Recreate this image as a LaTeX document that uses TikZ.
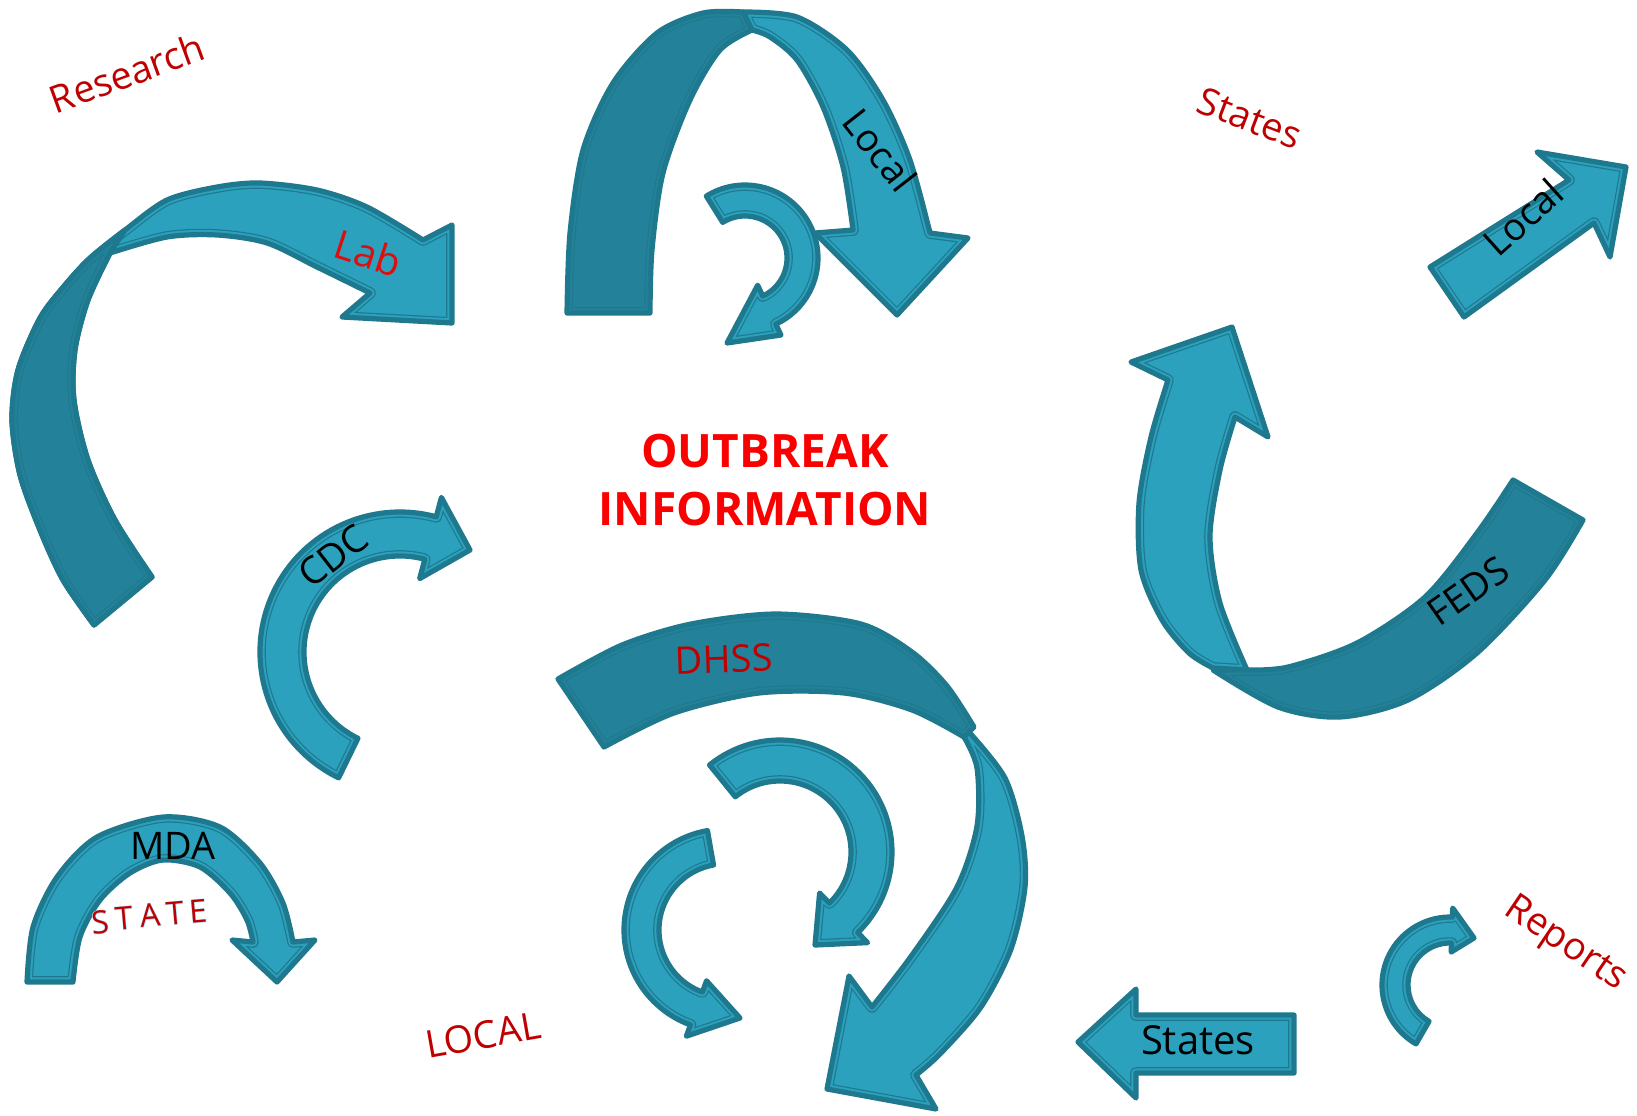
\documentclass[tikz,border=0pt]{standalone}
\usepackage{fontspec}
\setmainfont{Open Sans}
\usetikzlibrary{calc}
\definecolor{lite}{RGB}{43,161,189}
\definecolor{dark}{RGB}{35,130,153}
\definecolor{bdr}{RGB}{31,121,142}
\definecolor{dkred}{RGB}{192,0,0}
\definecolor{brred}{RGB}{250,0,0}
\definecolor{labred}{RGB}{222,14,14}
\definecolor{glow}{RGB}{185,238,255}
\newcommand\shp[2]{%
  \fill[#1] #2;
  \begin{scope}
    \clip #2;
    \draw[bdr,line width=5.8pt] #2;
    \draw[#1,line width=4.6pt] #2;
  \end{scope}
  \draw[bdr,line width=2.6pt] #2;
}
\newcommand\carrpath[8]{($(#1,#2)+(#5:#4)$) arc[start angle=#5,end angle=#6,radius=#4] -- ($(#1,#2)+(#6:{#4+#7})$) -- #8 -- ($(#1,#2)+(#6:{#3-#7})$) -- ($(#1,#2)+(#6:#3)$) arc[start angle=#6,end angle=#5,radius=#3] -- cycle}
\tikzset{
  lbl/.style={font=\fontsize{19}{22}\selectfont, inner sep=0pt},
  ttl/.style={font=\bfseries\fontsize{23}{27}\selectfont, inner sep=0pt},
  stl/.style={font=\fontsize{16}{18}\selectfont, inner sep=0pt, rotate=5},
}
\begin{document}
\begin{tikzpicture}[x=0.5pt,y=-0.5pt,line join=round]
\useasboundingbox (0,0) rectangle (1637,1115);
\fill[white] (0,0) rectangle (1637,1115);

% Research / Lab arrow
\shp{lite}{plot[smooth] coordinates {(94,625) (63,580) (40,530) (20,475) (12,420) (18,370) (40,318) (65,285) (90,258) (125,230) (167,200) (217,187) (260,183) (317,190) (367,207) (423,240)} -- (452,225) -- (452,323) -- (342,317) -- plot[smooth] coordinates {(370,293) (317,267) (267,243) (217,235) (167,237) (110,253)} -- plot[smooth] coordinates {(110,253) (88,300) (75,350) (74,400) (88,460) (115,520) (152,577)} -- cycle}
\shp{dark}{plot[smooth] coordinates {(94,625) (63,580) (40,530) (20,475) (12,420) (18,370) (40,318) (65,285) (90,258) (125,230)} -- plot[smooth] coordinates {(110,253) (88,300) (75,350) (74,400) (88,460) (115,520) (152,577)} -- cycle}

% Local arch
\shp{lite}{plot[smooth] coordinates {(743,12) (797,17) (847,50) (883,100) (910,160) (930,233)} -- (968,238) -- (897,315) -- (815,233) -- plot[smooth] coordinates {(853,230) (843,167) (823,107) (797,60) (770,37) (752,30)} -- cycle}
\shp{dark}{plot[smooth] coordinates {(567,313) (570,233) (583,150) (613,83) (657,33) (703,13) (743,12)} -- plot[smooth] coordinates {(752,30) (720,50) (690,100) (663,173) (652,250) (650,313)} -- cycle}
\shp{lite}{\carrpath{745}{258}{42}{73}{-122}{65}{12}{(727,343)}}

% Local straight arrow
\shp{lite}{(1430,267) -- (1569,180) -- (1537,152) -- (1626,167) -- (1610,257) -- (1594,223) -- (1464,317) -- cycle}

% FEDS arrow
\shp{lite}{(1131,362) -- (1232,327) -- (1268,437) -- plot[smooth] coordinates {(1235,417) (1220,470) (1210,537) (1220,603) (1247,670)} -- plot[smooth] coordinates {(1213,668) (1189,653) (1162,620) (1141,570) (1139,503) (1151,437) (1168,380)} -- cycle}
\shp{dark}{plot[smooth] coordinates {(1213,670) (1278,707) (1340,717) (1408,700) (1477,653) (1545,580) (1583,520)} -- (1513,480) -- plot[smooth] coordinates {(1513,480) (1477,533) (1425,597) (1357,643) (1288,667) (1247,670)} -- cycle}

% CDC arrow
\shp{lite}{\carrpath{400}{652}{96}{140}{116}{285}{20}{(470,550)}}

% DHSS arrow
\shp{lite}{plot[smooth] coordinates {(969,732) (1005,778) (1022,836) (1025,887) (1011,949) (981,1007) (940,1054) (916,1075)} -- (936,1109) -- (827,1089) -- (849,976) -- plot[smooth] coordinates {(872,1007) (912,955) (957,887) (977,826) (977,768) (964,737)} -- cycle}
\shp{dark}{plot[smooth] coordinates {(558,679) (622,645) (691,624) (776,614) (861,624) (912,652) (947,686) (974,727)} -- plot[smooth] coordinates {(964,737) (912,710) (844,693) (759,693) (674,713) (604,747)} -- cycle}
\shp{lite}{\carrpath{780}{852}{71}{112}{-129}{46}{14}{(815,945)}}
\shp{lite}{\carrpath{725}{930}{66}{101}{260}{110}{12}{(740,1018)}}

% MDA arrow
\shp{lite}{plot[smooth] coordinates {(27,982) (33,927) (57,877) (97,837) (163,817) (220,827) (260,863) (283,903) (293,942)} -- (315,940) -- (277,982) -- (232,940) -- plot[smooth] coordinates {(253,942) (247,920) (230,893) (200,867) (163,860) (130,873) (100,900) (80,937) (73,982)} -- cycle}

% States arrow
\shp{lite}{(1078,1042) -- (1136,989) -- (1136,1015) -- (1294,1015) -- (1294,1073) -- (1136,1073) -- (1136,1098) -- cycle}

% Reports small arrow
\shp{lite}{\carrpath{1450}{985}{42}{68}{120}{272}{9}{(1474,938)}}

% Texts
\node[lbl,text=dkred,rotate=20] (research) at (127,73) {Research};
\node[lbl,text=dkred,rotate=-21] (statestop) at (1250,118) {States};
\node[lbl,text=dkred,rotate=-34] (reports) at (1565,945) {Reports};
\node[lbl,text=dkred,rotate=10] (localred) at (483,1035) {LOCAL};
\node[lbl,text=labred,rotate=-18,font=\fontsize{20}{22}\selectfont] (lab) at (368,253) {Lab};
\node[lbl,text=black,rotate=-52] (localarch) at (880,150) {Local};
\node[lbl,text=black,rotate=42] (localright) at (1523,217) {Local};
\node[lbl,text=black,rotate=38] (cdc) at (333,556) {CDC};
\node[lbl,text=black,rotate=35] (feds) at (1468,591) {FEDS};
\node[lbl,text=dkred,rotate=2] (dhss) at (724,659) {DHSS};
\node[lbl,text=black] (mda) at (173,846) {MDA};
\node[lbl,text=black,font=\fontsize{20}{22}\selectfont] (statesarr) at (1198,1040) {States};
\node[ttl,text=brred,align=center,font=\bfseries\fontsize{23}{29}\selectfont] (title) at (765,480) {OUTBREAK\\INFORMATION};
% STATE letters with glow
\foreach \ch/\px/\py [count=\i] in {S/100/922, T/124/918, A/150/915, T/175/913, E/198/911}{
  \node[stl,text=glow,font=\fontsize{16}{18}\selectfont\addfontfeature{FakeBold=4}] (sg\i) at (\px,\py) {\ch};
  \node[stl,text=dkred] (s\i) at (\px,\py) {\ch};
}
\end{tikzpicture}
\end{document}
